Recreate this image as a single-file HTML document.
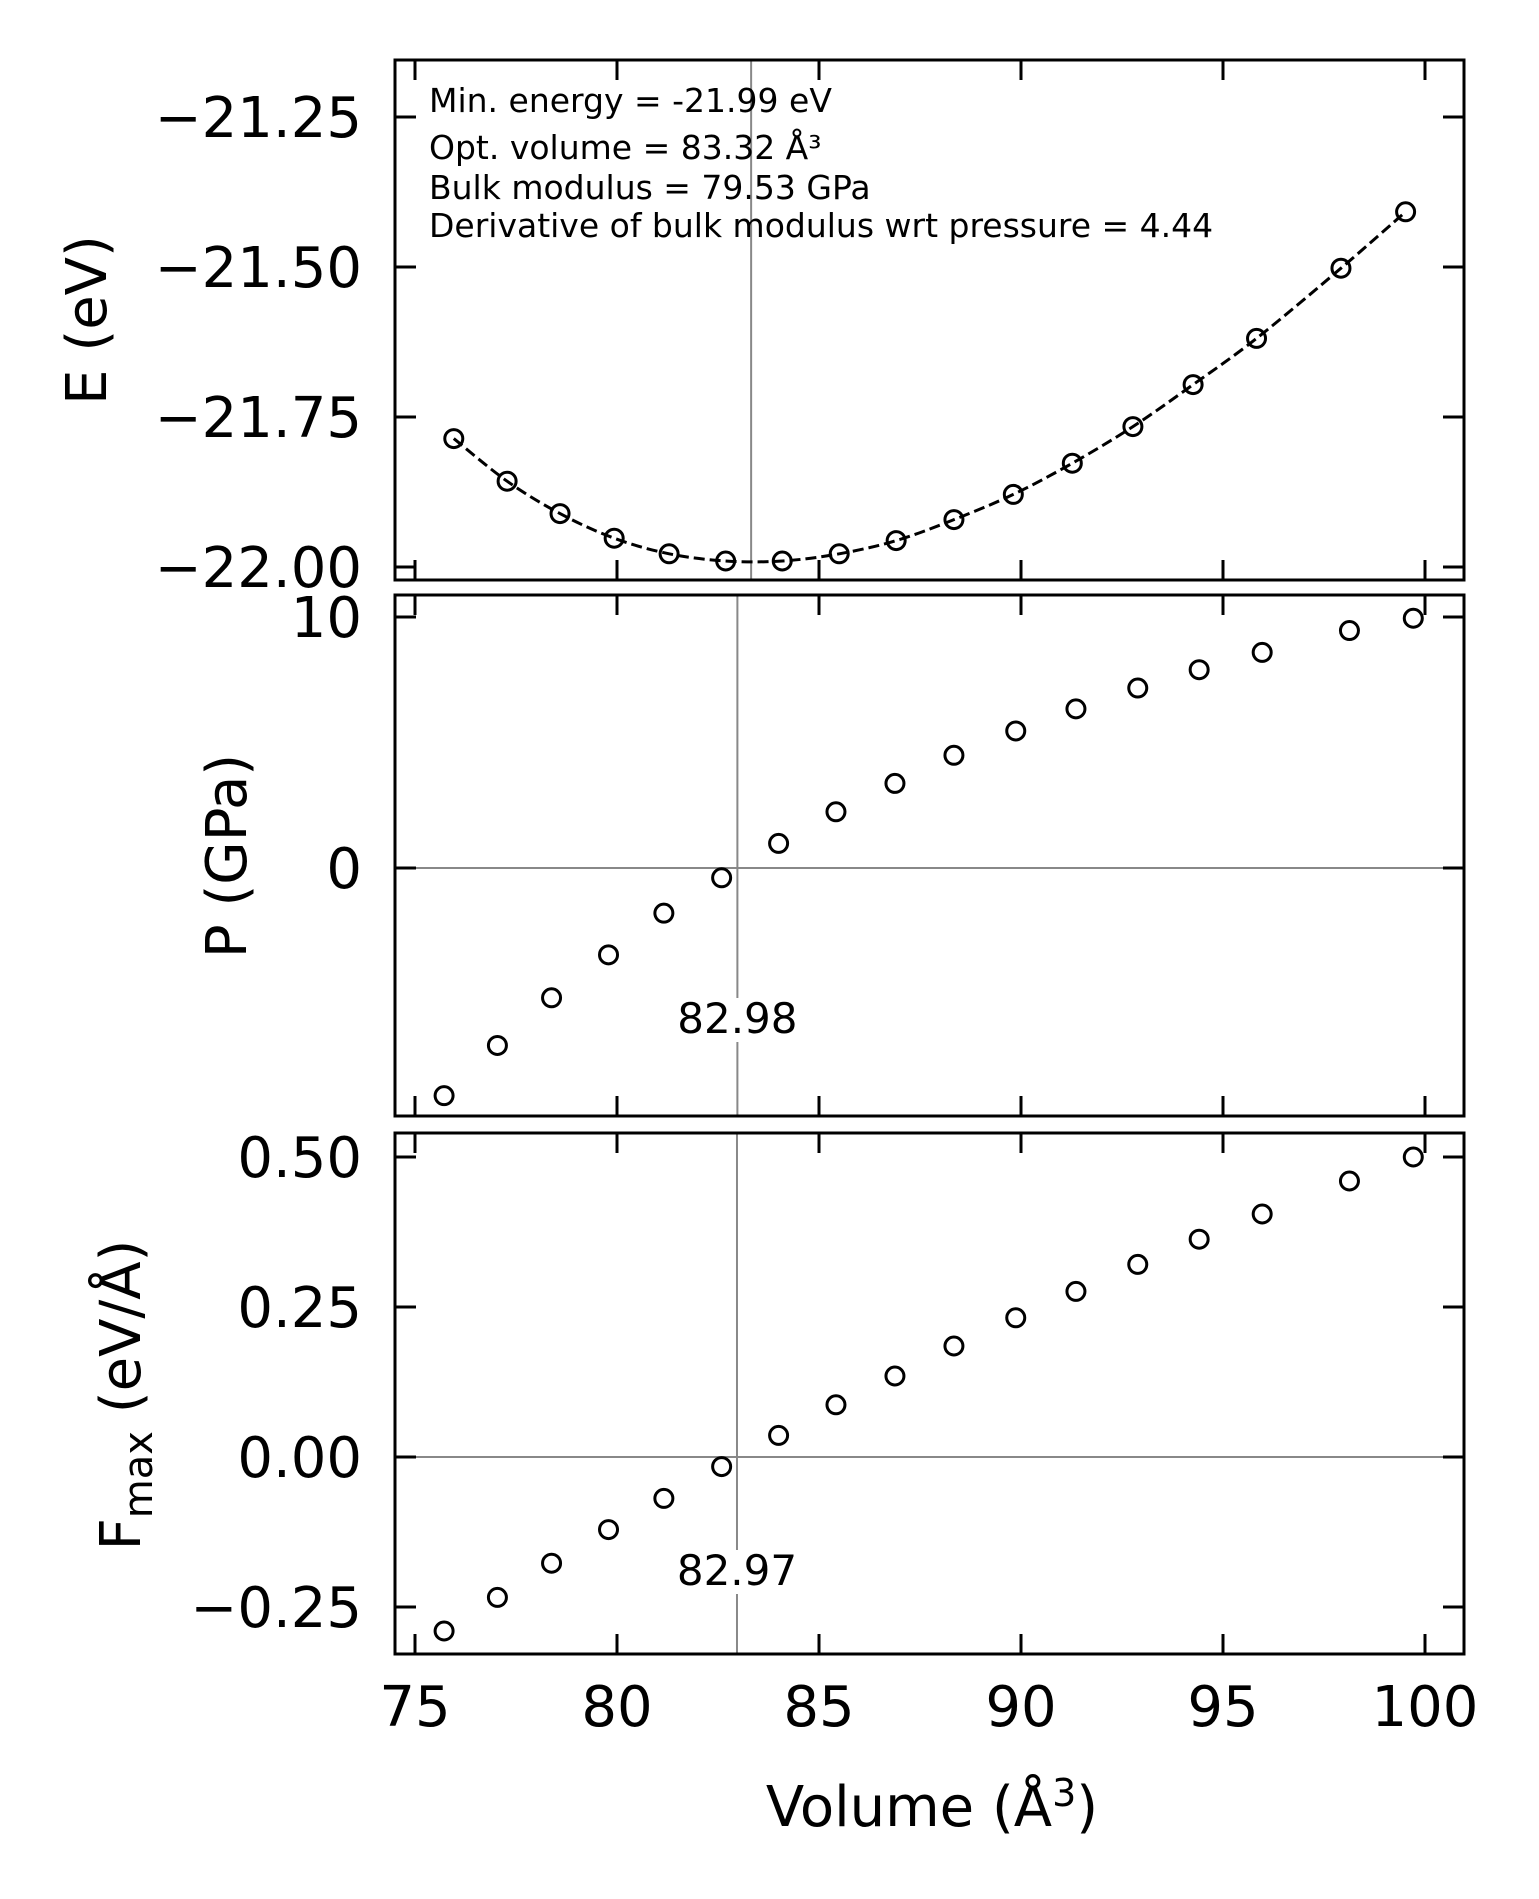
<!DOCTYPE html>
<html><head><meta charset="utf-8"><style>
html,body{margin:0;padding:0;background:#fff;}
svg{display:block;font-family:"DejaVu Sans","Liberation Sans",sans-serif;}
</style></head><body>
<svg id="fig" width="1539" height="1899" viewBox="0 0 1539 1899" xmlns="http://www.w3.org/2000/svg"></svg>
<script>
// ---- data ----
const volE = [75.96,77.28,78.59,79.93,81.29,82.69,84.09,85.50,86.91,88.34,89.81,91.27,92.77,94.26,95.83,97.92,99.52];
const energy = [-21.786,-21.857,-21.911,-21.952,-21.978,-21.990,-21.990,-21.978,-21.956,-21.921,-21.879,-21.827,-21.766,-21.696,-21.619,-21.502,-21.408];
const volP = [75.72,77.04,78.38,79.79,81.16,82.59,84.00,85.42,86.88,88.34,89.87,91.36,92.89,94.41,95.97,98.13,99.71];
const pressure = [-9.07,-7.07,-5.17,-3.46,-1.80,-0.39,0.98,2.24,3.37,4.49,5.46,6.34,7.17,7.90,8.59,9.46,9.95];
const fmax = [-0.290,-0.234,-0.177,-0.121,-0.069,-0.016,0.036,0.087,0.135,0.185,0.232,0.276,0.321,0.363,0.405,0.460,0.500];
const xTicks = [75,80,85,90,95,100];
const eTicks = [-21.25,-21.5,-21.75,-22.0];
const eTickLabels = ["\u221221.25","\u221221.50","\u221221.75","\u221222.00"];
const pTicks = [10,0];
const pTickLabels = ["10","0"];
const fTicks = [0.5,0.25,0,-0.25];
const fTickLabels = ["0.50","0.25","0.00","\u22120.25"];
const optVolume = 83.32, pZero = 82.98, fZero = 82.97;
const annLines = ["Min. energy = -21.99 eV","Opt. volume = 83.32 Å\u00b3","Bulk modulus = 79.53 GPa","Derivative of bulk modulus wrt pressure = 4.44"];

const NS="http://www.w3.org/2000/svg";
const svg=document.getElementById('fig');
function mk(tag,attrs,parent){const e=document.createElementNS(NS,tag);for(const k in attrs)e.setAttribute(k,attrs[k]);(parent||svg).appendChild(e);return e;}
const L=395,R=1464;
const xs=v=>415+40.4*(v-75);
const panels=[
 {top:60,bot:580,y:v=>567-(v+22)*600},
 {top:595,bot:1116,y:v=>868-v*25.1},
 {top:1133,bot:1654,y:v=>1457-v*600}
];
function ticks(p,yt,labels,name){
 const g=mk('g',{});
 
 
 xTicks.forEach(t=>{const x=xs(t);
  mk('line',{x1:x,x2:x,y1:p.bot,y2:p.bot-20,stroke:'#000','stroke-width':3},g);
  mk('line',{x1:x,x2:x,y1:p.top,y2:p.top+20,stroke:'#000','stroke-width':3},g);});
 yt.forEach((t,i)=>{const y=p.y(t);
  mk('line',{x1:L,x2:L+21,y1:y,y2:y,stroke:'#000','stroke-width':3},g);
  mk('line',{x1:R,x2:R-21,y1:y,y2:y,stroke:'#000','stroke-width':3},g);
  const tx=mk('text',{x:362,y:y+20,'text-anchor':'end','font-size':56},g);
  tx.textContent=labels[i];
  
  });
}
function frame(p,name){const r=mk('rect',{x:L,y:p.top,width:R-L,height:p.bot-p.top,fill:'none',stroke:'#000','stroke-width':3});
 }
function markers(vx,vy,p,name){vx.forEach((v,i)=>{const c=mk('circle',{cx:xs(v),cy:p.y(vy[i]),r:9,fill:'none',stroke:'#000','stroke-width':3});
 });}
function vline(v,p,name){const l=mk('line',{x1:xs(v),x2:xs(v),y1:p.top,y2:p.bot,stroke:'#888','stroke-width':2});
 }
function hline(p,name){const l=mk('line',{x1:L,x2:R,y1:p.y(0),y2:p.y(0),stroke:'#888','stroke-width':2});
 }
function vlabel(v,y,txt,name){const x=xs(v);
 mk('rect',{x:x-52,y:y-35,width:104,height:44,fill:'#fff'});
 const t=mk('text',{x:x,y:y,'text-anchor':'middle','font-size':42});t.textContent=txt;
 }

// panel E
const pE=panels[0];
vline(optVolume,pE,'opt-volume-line');
(function(){const pts=volE.map((v,i)=>[xs(v),pE.y(energy[i])]);let d='M'+pts[0][0]+','+pts[0][1];
 for(let i=0;i<pts.length-1;i++){const p0=pts[Math.max(0,i-1)],p1=pts[i],p2=pts[i+1],p3=pts[Math.min(pts.length-1,i+2)];
  d+=' C'+(p1[0]+(p2[0]-p0[0])/6)+','+(p1[1]+(p2[1]-p0[1])/6)+' '+(p2[0]-(p3[0]-p1[0])/6)+','+(p2[1]-(p3[1]-p1[1])/6)+' '+p2[0]+','+p2[1];}
 const path=mk('path',{d:d,fill:'none',stroke:'#000','stroke-width':3,'stroke-dasharray':'11,5'});
 })();
markers(volE,energy,pE,'energy');
ticks(pE,eTicks,eTickLabels,'energy');
frame(pE,'energy-panel');
annLines.forEach((s,i)=>{const t=mk('text',{x:429,y:[112,159,199,237][i],'font-size':33});t.textContent=s;
 });

// panel P
const pP=panels[1];
hline(pP,'pressure-zero-line');vline(pZero,pP,'pressure-zero-volume-line');
vlabel(pZero,1033,'82.98','pressure-zero-label');
markers(volP,pressure,pP,'pressure');
ticks(pP,pTicks,pTickLabels,'pressure');frame(pP,'pressure-panel');

// panel F
const pF=panels[2];
hline(pF,'force-zero-line');vline(fZero,pF,'force-zero-volume-line');
vlabel(fZero,1585,'82.97','force-zero-label');
markers(volP,fmax,pF,'fmax');
ticks(pF,fTicks,fTickLabels,'fmax');frame(pF,'fmax-panel');

xTicks.forEach(t=>{const tx=mk('text',{x:xs(t),y:1726,'text-anchor':'middle','font-size':56});tx.textContent=t;
 });
</script>
<div style="position:absolute;left:0;top:0;width:1539px;height:1899px;pointer-events:none;">
<svg width="1539" height="1899" style="position:absolute;left:0;top:0" font-family="DejaVu Sans, Liberation Sans, sans-serif">
<text x="932" y="1826" text-anchor="middle" font-size="56">Volume (Å<tspan dy="-20" font-size="38">3</tspan><tspan dy="20">)</tspan></text>
<text transform="translate(106,320) rotate(-90)" text-anchor="middle" font-size="56">E (eV)</text>
<text transform="translate(246,856) rotate(-90)" text-anchor="middle" font-size="56">P (GPa)</text>
<text transform="translate(140,1395) rotate(-90)" text-anchor="middle" font-size="56">F<tspan dy="12" font-size="40">max</tspan><tspan dy="-12"> (eV/Å)</tspan></text>
</svg></div>
</body></html>
